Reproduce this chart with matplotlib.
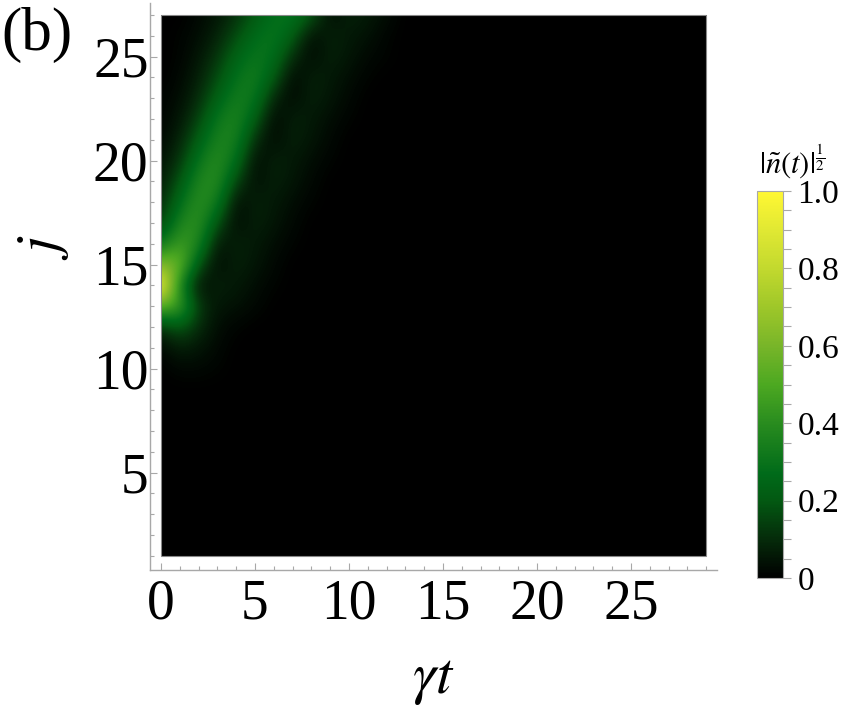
import numpy as np
import matplotlib
matplotlib.use('Agg')
import matplotlib.pyplot as plt
from matplotlib.colors import LinearSegmentedColormap
from matplotlib.patches import Rectangle
from matplotlib.ticker import MultipleLocator, FixedLocator

plt.rcParams['font.family'] = ['Liberation Serif', 'DejaVu Serif']
plt.rcParams['mathtext.fontset'] = 'stix'

# lattice sites and times
j_sites = np.arange(1, 28)
t_vals = np.arange(0, 30)

# |n(t)|^(1/2), sites j = 10..27, times t = 0..12
# (everything else is black, i.e. 0)
rows = {
    27: [.00, .00, .02, .05, .11, .20, .28, .30, .20, .02, .08, .06, .03],
    26: [.00, .01, .03, .08, .17, .27, .31, .22, .02, .08, .06, .04, .01],
    25: [.00, .01, .05, .12, .24, .31, .28, .10, .02, .08, .05, .02, .01],
    24: [.00, .02, .07, .17, .29, .34, .21, .01, .08, .06, .03, .01, .00],
    23: [.01, .03, .10, .23, .34, .31, .08, .02, .08, .05, .02, .00, .00],
    22: [.01, .05, .15, .31, .37, .22, .01, .08, .06, .03, .01, .00, .00],
    21: [.02, .08, .22, .36, .35, .10, .02, .08, .05, .02, .00, .00, .00],
    20: [.04, .12, .30, .40, .28, .02, .08, .06, .03, .01, .00, .00, .00],
    19: [.06, .19, .37, .40, .15, .03, .08, .05, .02, .00, .00, .00, .00],
    18: [.09, .27, .41, .33, .02, .08, .06, .03, .01, .00, .00, .00, .00],
    17: [.14, .36, .42, .18, .02, .08, .05, .02, .00, .00, .00, .00, .00],
    16: [.29, .47, .37, .04, .08, .06, .03, .01, .00, .00, .00, .00, .00],
    15: [.62, .58, .18, .02, .08, .05, .02, .00, .00, .00, .00, .00, .00],
    14: [1.0, .34, .02, .08, .06, .03, .01, .00, .00, .00, .00, .00, .00],
    13: [.52, .47, .13, .05, .04, .02, .00, .00, .00, .00, .00, .00, .00],
    12: [.10, .20, .10, .03, .01, .00, .00, .00, .00, .00, .00, .00, .00],
    11: [.02, .07, .05, .02, .00, .00, .00, .00, .00, .00, .00, .00, .00],
    10: [.00, .02, .02, .01, .00, .00, .00, .00, .00, .00, .00, .00, .00],
}

cbar_ticks = [0, 0.2, 0.4, 0.6, 0.8, 1.0]
cbar_labels = ['0', '0.2', '0.4', '0.6', '0.8', '1.0']

# build the grid
grid = np.zeros((len(j_sites), len(t_vals)))
for j, vals in rows.items():
    grid[j - 1, :len(vals)] = vals

cmap = LinearSegmentedColormap.from_list('greens', [
    (0.0, (0.0, 0.0, 0.0)),
    (0.1, (0.02, 0.17, 0.04)),
    (0.2, (0.01, 0.35, 0.07)),
    (0.27, (0.0, 0.42, 0.10)),
    (0.4, (0.16, 0.55, 0.12)),
    (0.5, (0.30, 0.66, 0.13)),
    (0.6, (0.47, 0.71, 0.16)),
    (0.7, (0.62, 0.78, 0.16)),
    (0.8, (0.76, 0.85, 0.18)),
    (0.9, (0.88, 0.91, 0.20)),
    (1.0, (1.0, 0.97, 0.20)),
])

grey = '#a8a8a8'

fig = plt.figure(figsize=(8.56, 7.28), dpi=100)
ax = fig.add_axes([0.1752, 0.217, 0.662, 0.779])

im = ax.imshow(grid, origin='lower', aspect='auto', cmap=cmap, vmin=0, vmax=1,
               interpolation='bicubic',
               extent=[t_vals[0] - 0.5, t_vals[-1] + 0.5, j_sites[0] - 0.5, j_sites[-1] + 0.5])
clip = Rectangle((t_vals[0], j_sites[0]), t_vals[-1] - t_vals[0], j_sites[-1] - j_sites[0],
                 transform=ax.transData, facecolor='none')
im.set_clip_path(clip)
ax.add_patch(Rectangle((t_vals[0], j_sites[0]), t_vals[-1] - t_vals[0], j_sites[-1] - j_sites[0],
                       facecolor='none', edgecolor='#888888', linewidth=0.8, zorder=3))

ax.set_xlim(-0.585, 29.56)
ax.set_ylim(0.32, 27.58)

for s in ['top', 'right']:
    ax.spines[s].set_visible(False)
for s in ['left', 'bottom']:
    ax.spines[s].set_color(grey)
    ax.spines[s].set_linewidth(1.0)

ax.xaxis.set_major_locator(FixedLocator([0, 5, 10, 15, 20, 25]))
ax.xaxis.set_minor_locator(MultipleLocator(1))
ax.yaxis.set_major_locator(FixedLocator([5, 10, 15, 20, 25]))
ax.yaxis.set_minor_locator(MultipleLocator(1))
ax.tick_params(which='both', direction='in', color=grey, width=0.8)
ax.tick_params(which='major', length=5)
ax.tick_params(which='minor', length=2.8)
ax.tick_params(axis='x', which='major', labelsize=40, pad=6)
ax.tick_params(axis='y', which='major', labelsize=40, pad=1)

ax.set_xlabel(r'$\gamma t$', fontsize=42)
ax.xaxis.set_label_coords(0.5, -0.15)
ax.set_ylabel(r'$j$', fontsize=42)
ax.yaxis.set_label_coords(-0.14, 0.57)

# colorbar
cax = fig.add_axes([0.8843, 0.206, 0.0304, 0.5316])
cb = fig.colorbar(im, cax=cax)
cb.set_ticks(cbar_ticks)
cb.set_ticklabels(cbar_labels)
cb.ax.yaxis.set_minor_locator(MultipleLocator(0.05))
cb.ax.tick_params(which='both', direction='out', color=grey, width=0.8, length=5.5)
cb.ax.tick_params(which='major', labelsize=24, pad=5)
cb.outline.set_edgecolor(grey)
cb.outline.set_linewidth(0.8)

fig.text(792 / 856, 1 - 162 / 728, r'$|\tilde{n}(t)|^{\frac{1}{2}}$', ha='center', va='center',
         fontsize=22)
fig.text(0.002, 0.99, '(b)', fontsize=44, va='top', ha='left')

fig.savefig('out.png', dpi=100)
